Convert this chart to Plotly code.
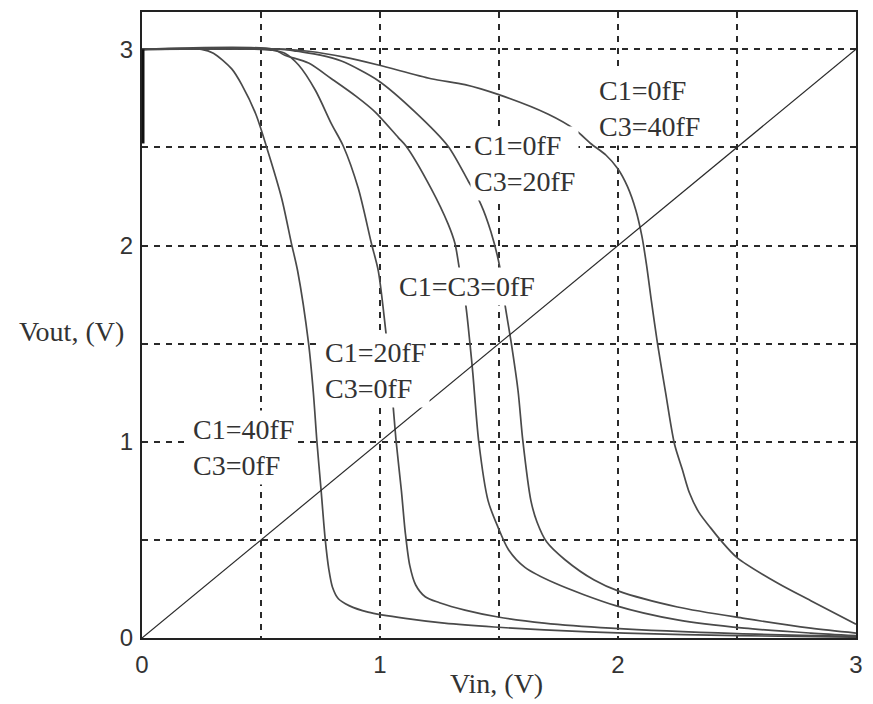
import plotly.graph_objects as go

# Inverter transfer curves: Vout vs Vin for different load capacitances
vin_c1_40 = [0, 0.25, 0.30, 0.377, 0.419, 0.478, 0.524, 0.587, 0.628, 0.654, 0.70, 0.72,
             0.735, 0.752, 0.77, 0.785, 0.80, 0.825, 0.87, 0.95, 1.106, 1.27, 1.48, 1.69, 2.03, 2.5, 3.0]
vout_c1_40 = [3, 3, 2.98, 2.90, 2.82, 2.67, 2.50, 2.24, 2.01, 1.87, 1.50, 1.25,
              1.0, 0.76, 0.50, 0.35, 0.26, 0.20, 0.165, 0.132, 0.10, 0.076, 0.056, 0.041, 0.025, 0.012, 0.004]

vin_c1_20 = [0, 0.5, 0.55, 0.60, 0.658, 0.729, 0.796, 0.846, 0.909, 0.964, 0.993, 1.03, 1.045,
             1.056, 1.068, 1.09, 1.106, 1.125, 1.15, 1.19, 1.25, 1.357, 1.496, 1.69, 1.97, 2.5, 3.0]
vout_c1_20 = [3, 3, 2.995, 2.98, 2.92, 2.79, 2.62, 2.506, 2.29, 2.01, 1.87, 1.50, 1.33,
              1.17, 1.0, 0.75, 0.54, 0.37, 0.27, 0.21, 0.18, 0.142, 0.107, 0.076, 0.05, 0.022, 0.008]

vin_c0 = [0, 0.55, 0.60, 0.70, 0.796, 0.90, 0.98, 1.077, 1.11, 1.215, 1.286, 1.315, 1.335,
          1.36, 1.378, 1.39, 1.415, 1.454, 1.496, 1.54, 1.609, 1.734, 1.99, 2.25, 2.53, 2.81, 3.0]
vout_c0 = [3, 3, 2.97, 2.93, 2.85, 2.76, 2.68, 2.55, 2.506, 2.29, 2.11, 2.01, 1.87,
           1.70, 1.50, 1.35, 1.0, 0.70, 0.564, 0.45, 0.36, 0.28, 0.165, 0.092, 0.05, 0.025, 0.012]

vin_c3_20 = [0, 0.6, 0.65, 0.75, 0.838, 0.993, 1.148, 1.286, 1.37, 1.424, 1.466, 1.504, 1.525,
             1.55, 1.58, 1.60, 1.634, 1.66, 1.70, 1.776, 1.90, 2.0, 2.25, 2.53, 2.81, 3.0]
vout_c3_20 = [3, 3, 2.99, 2.97, 2.94, 2.84, 2.68, 2.506, 2.33, 2.21, 2.07, 1.886, 1.70,
              1.515, 1.26, 1.007, 0.70, 0.59, 0.49, 0.40, 0.295, 0.24, 0.158, 0.10, 0.05, 0.025]

vin_c3_40 = [0, 0.6, 0.7, 0.85, 0.993, 1.215, 1.357, 1.496, 1.705, 1.82, 1.885, 1.95, 2.0,
             2.04, 2.075, 2.10, 2.12, 2.14, 2.166, 2.20, 2.237, 2.27, 2.30, 2.34, 2.39, 2.43,
             2.50, 2.67, 2.81, 3.0]
vout_c3_40 = [3, 3, 2.99, 2.96, 2.92, 2.85, 2.82, 2.77, 2.67, 2.59, 2.52, 2.46, 2.39,
              2.30, 2.18, 2.05, 1.90, 1.72, 1.50, 1.25, 0.99, 0.86, 0.74, 0.64, 0.56, 0.50,
              0.41, 0.28, 0.19, 0.07]

# Vout = Vin reference line and the start-up edge at Vin = 0
vin_diag = [0, 3]
vout_diag = [0, 3]
vin_edge = [0, 0]
vout_edge = [2.52, 3]

# Curve labels: (text, Vin, Vout) of the upper-left corner of each label
label_texts = ["C1=0fF<br>C3=40fF", "C1=0fF<br>C3=20fF", "C1=C3=0fF",
               "C1=20fF<br>C3=0fF", "C1=40fF<br>C3=0fF"]
label_vin = [1.905, 1.38, 1.065, 0.75, 0.198]
label_vout = [2.89, 2.61, 1.89, 1.555, 1.16]

grid_vals = [0, 0.5, 1, 1.5, 2, 2.5, 3]
grid_text = ["0", "", "1", "", "2", "", "3"]

curve_color = "#4a4a4a"
fig = go.Figure()
for xs, ys in [(vin_c1_40, vout_c1_40), (vin_c1_20, vout_c1_20), (vin_c0, vout_c0),
               (vin_c3_20, vout_c3_20), (vin_c3_40, vout_c3_40)]:
    fig.add_trace(go.Scatter(x=xs, y=ys, mode="lines",
                             line=dict(color=curve_color, width=1.7, shape="spline", smoothing=0.8),
                             showlegend=False, hoverinfo="skip"))
fig.add_trace(go.Scatter(x=vin_diag, y=vout_diag, mode="lines",
                         line=dict(color="#2a2a2a", width=1.2), showlegend=False))
fig.add_trace(go.Scatter(x=vin_edge, y=vout_edge, mode="lines",
                         line=dict(color="#111", width=5), showlegend=False, cliponaxis=False))

serif = "Liberation Serif"
for t, x, y in zip(label_texts, label_vin, label_vout):
    fig.add_annotation(x=x, y=y, text=t, showarrow=False, xanchor="left", yanchor="top",
                       align="left", bgcolor="white", borderpad=3,
                       font=dict(family=serif, size=28, color="#333"))

fig.add_annotation(x=-0.099, y=0.49, xref="paper", yref="paper", text="Vout, (V)",
                   showarrow=False, xanchor="center", yanchor="middle",
                   font=dict(family=serif, size=28, color="#333"))
fig.add_annotation(x=0.496, y=-0.072, xref="paper", yref="paper", text="Vin, (V)",
                   showarrow=False, xanchor="center", yanchor="middle",
                   font=dict(family=serif, size=28, color="#333"))

axis_common = dict(tickvals=grid_vals, ticktext=grid_text, showgrid=True,
                   gridcolor="#2a2a2a", gridwidth=1.6, griddash="6px,6px",
                   showline=True, linecolor="#222", linewidth=2, mirror=True,
                   ticks="", zeroline=False,
                   tickfont=dict(family="Liberation Sans", size=24, color="#333"))

fig.update_xaxes(range=[0, 3], ticklabelstandoff=4, **axis_common)
fig.update_yaxes(range=[0, 3.19], ticklabelstandoff=2, **axis_common)

fig.update_layout(width=873, height=704, margin=dict(l=142, r=13, t=10, b=66),
                  paper_bgcolor="white", plot_bgcolor="white")

fig.write_html("out.html")
